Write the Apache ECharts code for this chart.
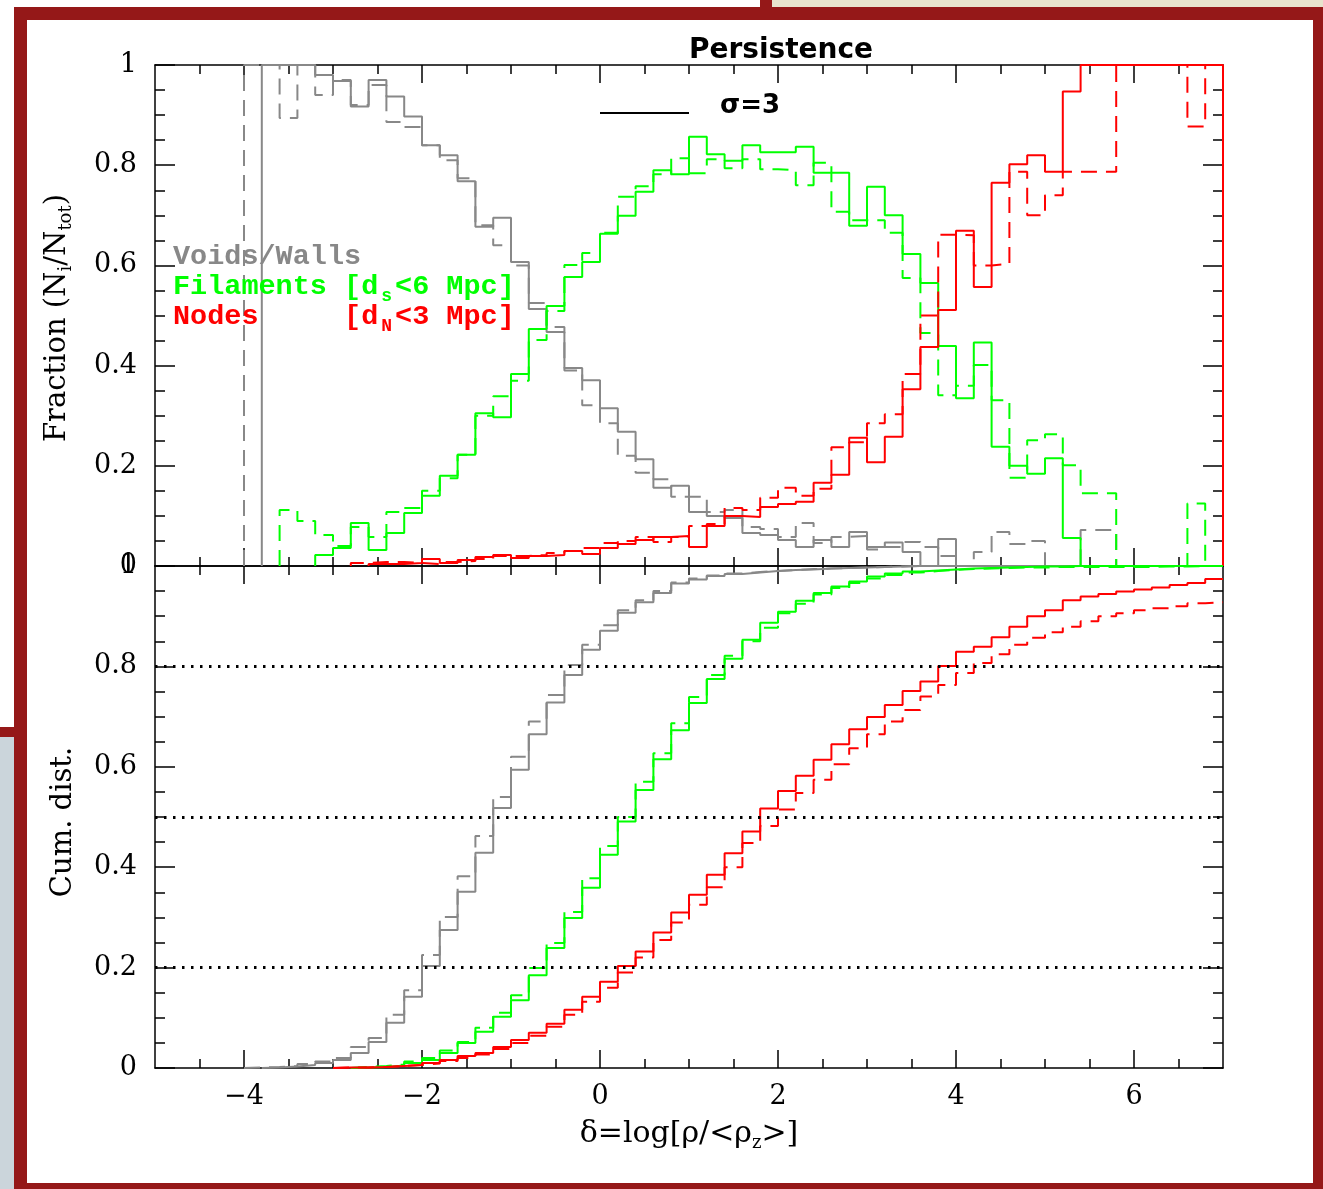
<!DOCTYPE html>
<html><head><meta charset="utf-8">
<script src="https://cdn.jsdelivr.net/npm/echarts@6/dist/echarts.min.js"></script>
<style>html,body{margin:0;padding:0;background:#fff}#c{width:1323px;height:1189px}</style>
</head><body><div id="c"></div>
<script>
// ---------- data ----------
const BIN = 0.2;
const xMajorTicks = [-4, -2, 0, 2, 4, 6];
const cumGuides = [0.2, 0.5, 0.8];

// top panel: fraction per bin (bin width 0.2, first bin starts at *Start)
const fracGreySolidStart = -3.8;
const fracGreySolid = [1,1,1,0.98,0.968,0.917,0.97,0.937,0.897,0.84,0.82,0.768,0.677,0.695,0.607,0.513,0.467,0.395,0.371,0.315,0.268,0.213,0.156,0.16,0.108,0.1,0.096,0.066,0.062,0.052,0.038,0.052,0.038,0.068,0.038,0.047,0.028,0,0.054];
const fracGreyDashedStart = -4.0;
const fracGreyDashed = [1,1,0.894,1,0.94,0.97,0.92,0.96,0.886,0.876,0.84,0.81,0.774,0.68,0.64,0.6,0.525,0.477,0.39,0.321,0.285,0.22,0.186,0.173,0.138,0.138,0.108,0.112,0.078,0.074,0.058,0.086,0.046,0.058,0.06,0.033,0.038,0.048,0.038,0.02,0,0.028,0.068,0.044,0.05,0,0,0.072,0.072];
const fracGreenSolidStart = -3.2;
const fracGreenSolid = [0.022,0.036,0.086,0.032,0.066,0.106,0.14,0.18,0.222,0.305,0.297,0.383,0.473,0.519,0.577,0.607,0.663,0.699,0.747,0.79,0.782,0.857,0.822,0.809,0.84,0.826,0.826,0.837,0.785,0.785,0.679,0.757,0.70,0.623,0.565,0.439,0.335,0.446,0.238,0.2,0.184,0.215,0.056];
const fracGreenDashedStart = -3.6;
const fracGreenDashed = [0.112,0.09,0.062,0.04,0.078,0.058,0.108,0.116,0.15,0.175,0.222,0.3,0.339,0.37,0.451,0.509,0.601,0.625,0.665,0.737,0.758,0.782,0.814,0.784,0.812,0.794,0.812,0.792,0.79,0.76,0.805,0.707,0.69,0.69,0.665,0.575,0.465,0.341,0.36,0.401,0.331,0.176,0.251,0.263,0.201,0.145,0.145,0,0,0,0,0.125];
const fracRedSolidStart = -2.6;
const fracRedSolid = [0.004,0.004,0.006,0.014,0.006,0.012,0.018,0.022,0.016,0.02,0.022,0.03,0.024,0.036,0.044,0.052,0.058,0.06,0.038,0.08,0.1,0.098,0.118,0.124,0.128,0.166,0.182,0.256,0.207,0.258,0.353,0.437,0.511,0.669,0.557,0.765,0.802,0.82,0.787,0.947,1,1,1,1,1,1,1,1];
const fracRedDashedStart = -2.8;
const fracRedDashed = [0.006,0.008,0.008,0.006,0.004,0.008,0.01,0.014,0.02,0.02,0.022,0.026,0.03,0.036,0.046,0.05,0.058,0.048,0.058,0.08,0.084,0.116,0.112,0.136,0.156,0.14,0.154,0.237,0.247,0.285,0.303,0.383,0.5,0.661,0.66,0.6,0.603,0.787,0.70,0.74,0.787,0.787,0.787,1,1,1,1,0.877,1];

// bottom panel: cumulative distribution per bin
const cumGreySolidStart = -3.8;
const cumGreySolid = [0.001,0.003,0.006,0.01,0.016,0.03,0.052,0.09,0.142,0.203,0.275,0.351,0.429,0.518,0.594,0.665,0.728,0.783,0.833,0.871,0.907,0.928,0.946,0.965,0.973,0.98,0.984,0.987,0.99,0.992,0.993,0.995,0.996,0.997,0.998,0.999,1,1,1,1,1,1,1,1,1,1,1,1,1,1,1,1,1,1];
const cumGreyDashedStart = -4.0;
const cumGreyDashed = [0.001,0.002,0.004,0.008,0.013,0.02,0.042,0.06,0.106,0.155,0.225,0.301,0.382,0.462,0.54,0.62,0.69,0.743,0.803,0.843,0.882,0.912,0.932,0.95,0.967,0.975,0.981,0.985,0.988,0.99,0.992,0.994,0.995,0.996,0.997,0.998,0.999,1,1,1,1,1,1,1,1,1,1,1,1,1,1,1,1,1,1];
const cumGreenSolidStart = -2.8;
const cumGreenSolid = [0.001,0.002,0.005,0.01,0.016,0.03,0.05,0.072,0.102,0.135,0.185,0.239,0.299,0.359,0.425,0.491,0.554,0.615,0.673,0.727,0.775,0.815,0.853,0.887,0.909,0.931,0.946,0.959,0.969,0.979,0.985,0.989,0.991,0.993,0.995,0.996,0.997,0.998,0.999,0.999,1,1,1,1,1,1,1,1,1];
const cumGreenDashedStart = -2.8;
const cumGreenDashed = [0.002,0.004,0.007,0.013,0.02,0.035,0.052,0.08,0.11,0.145,0.199,0.249,0.311,0.378,0.442,0.5,0.57,0.627,0.687,0.739,0.783,0.821,0.85,0.877,0.906,0.925,0.943,0.956,0.966,0.975,0.982,0.987,0.99,0.992,0.994,0.995,0.996,0.997,0.997,0.998,0.998,0.998,0.998,0.998,0.998,0.999,0.999,1,1];
const cumRedSolidStart = -3.0;
const cumRedSolid = [0.001,0.001,0.002,0.004,0.006,0.01,0.016,0.024,0.03,0.042,0.056,0.07,0.088,0.116,0.142,0.172,0.203,0.232,0.27,0.31,0.345,0.385,0.428,0.471,0.517,0.552,0.582,0.614,0.645,0.675,0.699,0.723,0.751,0.77,0.801,0.829,0.839,0.858,0.879,0.9,0.912,0.932,0.939,0.944,0.949,0.953,0.957,0.962,0.966,0.974];
const cumRedDashedStart = -3.0;
const cumRedDashed = [0.001,0.001,0.002,0.004,0.006,0.009,0.014,0.02,0.027,0.038,0.05,0.064,0.082,0.106,0.132,0.16,0.19,0.22,0.255,0.29,0.325,0.36,0.4,0.448,0.482,0.515,0.548,0.574,0.605,0.637,0.665,0.69,0.713,0.74,0.763,0.787,0.807,0.824,0.843,0.857,0.868,0.879,0.89,0.9,0.906,0.912,0.916,0.92,0.926,0.928];

// ---------- helpers ----------
const GREY = '#888888', GREEN = '#00ff00', RED = '#ff0000';
const DASH = [16, 9];
function r2(v){ return Math.round(v*1000)/1000; }
function steps(start, vals, closeEnd){
  const pts = [[start, 0]];
  vals.forEach((v, i) => {
    pts.push([r2(start + BIN*i), v], [r2(start + BIN*(i+1)), v]);
  });
  if (closeEnd) pts.push([r2(start + BIN*vals.length), 0]);
  return pts;
}
function ser(data, color, dashed, g, extra){
  return Object.assign({
    type: 'line', data, xAxisIndex: g ? 4 : 0, yAxisIndex: g ? 2 : 0,
    showSymbol: false, symbol: 'none', clip: false, animation: false, silent: true,
    lineStyle: { color, width: 2, type: dashed ? DASH : 'solid' }
  }, extra || {});
}
const minorX = [];
for (let v = -4.5; v <= 6.5; v += 0.5) { if (xMajorTicks.indexOf(v) < 0) minorX.push(v); }

const AX = { color: '#000', width: 1.5 };
const serifLabel = { fontFamily: 'DejaVu Serif', fontSize: 27, color: '#000' };
function xAxes(g){
  const base = { type: 'value', gridIndex: g, min: -5, max: 7, splitLine: { show: false } };
  return [
    Object.assign({}, base, { position: 'bottom',
      axisLine: { show: true, onZero: false, lineStyle: AX },
      axisTick: { show: true, inside: true, length: 18, customValues: xMajorTicks, lineStyle: AX },
      axisLabel: Object.assign({ show: g === 1, customValues: xMajorTicks, margin: 15,
        formatter: v => v < 0 ? '\u2212' + Math.abs(v) : String(v) }, serifLabel) }),
    Object.assign({}, base, { position: 'bottom',
      axisLine: { show: false, onZero: false },
      axisTick: { show: true, inside: true, length: 9, customValues: minorX, lineStyle: AX },
      axisLabel: { show: false } }),
    Object.assign({}, base, { position: 'top',
      axisLine: { show: true, onZero: false, lineStyle: AX },
      axisTick: { show: true, inside: true, length: 18, customValues: xMajorTicks, lineStyle: AX },
      axisLabel: { show: false } }),
    Object.assign({}, base, { position: 'top',
      axisLine: { show: false, onZero: false },
      axisTick: { show: true, inside: true, length: 9, customValues: minorX, lineStyle: AX },
      axisLabel: { show: false } })
  ];
}
function yAxes(g){
  const base = { type: 'value', gridIndex: g, min: 0, max: 1, interval: 0.2,
    splitLine: { show: false }, minorSplitLine: { show: false },
    axisLine: { show: true, onZero: false, lineStyle: AX },
    axisTick: { show: true, inside: true, length: 20, lineStyle: AX },
    minorTick: { show: true, splitNumber: 4, length: 10, lineStyle: AX } };
  return [
    Object.assign({}, base, { position: 'left',
      axisLabel: Object.assign({ show: true, margin: 18 }, serifLabel) }),
    Object.assign({}, base, { position: 'right', axisLabel: { show: false } })
  ];
}

const series = [
  ser(steps(fracGreyDashedStart, fracGreyDashed, true), GREY, true, 0),
  ser(steps(fracGreySolidStart, fracGreySolid, true), GREY, false, 0),
  ser(steps(fracGreenDashedStart, fracGreenDashed, true), GREEN, true, 0),
  ser(steps(fracGreenSolidStart, fracGreenSolid, true), GREEN, false, 0),
  ser(steps(fracRedDashedStart, fracRedDashed, true), RED, true, 0),
  ser(steps(fracRedSolidStart, fracRedSolid, true), RED, false, 0),
  ser(steps(cumGreyDashedStart, cumGreyDashed, false), GREY, true, 1, {
    markLine: { silent: true, symbol: 'none', label: { show: false }, animation: false,
      lineStyle: { color: '#000', width: 3, type: [2.5, 6.5] },
      data: cumGuides.map(v => ({ yAxis: v })) } }),
  ser(steps(cumGreySolidStart, cumGreySolid, false), GREY, false, 1),
  ser(steps(cumGreenDashedStart, cumGreenDashed, false), GREEN, true, 1),
  ser(steps(cumGreenSolidStart, cumGreenSolid, false), GREEN, false, 1),
  ser(steps(cumRedDashedStart, cumRedDashed, false), RED, true, 1),
  ser(steps(cumRedSolidStart, cumRedSolid, false), RED, false, 1)
];

const FRAME = '#951818';
const monoRich = (color) => ({
  sub: { fontSize: 18, fontFamily: 'Liberation Mono', fontWeight: 'bold', fill: color,
    verticalAlign: 'bottom', lineHeight: 18, padding: [0, 3, 0, 3] }
});
function legendText(y, text, color){
  return { type: 'text', x: 173, y, z: 100, silent: true,
    style: { text, fill: color, fontFamily: 'Liberation Mono', fontWeight: 'bold', fontSize: 28.5,
      lineHeight: 36, align: 'left', verticalAlign: 'middle', rich: monoRich(color) } };
}
const serifRich = { sub: { fontSize: 18, fontFamily: 'DejaVu Serif', fill: '#000', verticalAlign: 'bottom', lineHeight: 18 } };

const graphic = [
  { type: 'rect', z: -100, silent: true, shape: { x: 0, y: 737, width: 14, height: 452 }, style: { fill: '#cbd5db' } },
  { type: 'rect', z: -100, silent: true, shape: { x: 0, y: 727, width: 14, height: 10 }, style: { fill: FRAME } },
  { type: 'rect', z: -100, silent: true, shape: { x: 770, y: 0, width: 553, height: 8 }, style: { fill: '#e8e3cd' } },
  { type: 'rect', z: -100, silent: true, shape: { x: 760, y: 0, width: 12, height: 8 }, style: { fill: FRAME } },
  { type: 'rect', z: -99, silent: true, shape: { x: 14, y: 7, width: 1309, height: 1182 }, style: { fill: FRAME } },
  { type: 'rect', z: -98, silent: true, shape: { x: 27, y: 20, width: 1286, height: 1163 }, style: { fill: '#ffffff' } },
  { type: 'text', x: 781, y: 51, z: 100, silent: true,
    style: { text: 'Persistence', fill: '#000', fontFamily: 'DejaVu Sans', fontWeight: 'bold', fontSize: 28, align: 'center', verticalAlign: 'middle' } },
  { type: 'line', z: 100, silent: true, shape: { x1: 600, y1: 113, x2: 689, y2: 113 }, style: { stroke: '#000', lineWidth: 2 } },
  { type: 'text', x: 720, y: 106, z: 100, silent: true,
    style: { text: '\u03c3=3', fill: '#000', fontFamily: 'DejaVu Sans', fontWeight: 'bold', fontSize: 26, align: 'left', verticalAlign: 'middle' } },
  legendText(257, 'Voids/Walls', GREY),
  legendText(287, 'Filaments [d{sub|s}<6 Mpc]', GREEN),
  legendText(317, 'Nodes     [d{sub|N}<3 Mpc]', RED),
  { type: 'text', x: 57, y: 318, rotation: Math.PI/2, z: 100, silent: true,
    style: { text: 'Fraction (N{sub|i}/N{sub|tot})', fill: '#000', fontFamily: 'DejaVu Serif', fontSize: 29,
      lineHeight: 36, align: 'center', verticalAlign: 'middle', rich: serifRich } },
  { type: 'text', x: 63, y: 822, rotation: Math.PI/2, z: 100, silent: true,
    style: { text: 'Cum. dist.', fill: '#000', fontFamily: 'DejaVu Serif', fontSize: 29, align: 'center', verticalAlign: 'middle' } },
  { type: 'text', x: 689, y: 1134, z: 100, silent: true,
    style: { text: '\u03b4=log[\u03c1/<\u03c1{sub|z}>]', fill: '#000', fontFamily: 'DejaVu Serif', fontSize: 30,
      lineHeight: 36, align: 'center', verticalAlign: 'middle', rich: serifRich } }
];

const chart = echarts.init(document.getElementById('c'), null, { renderer: 'canvas' });
chart.setOption({
  backgroundColor: '#ffffff',
  animation: false,
  grid: [
    { left: 155, top: 65, width: 1068, height: 501, containLabel: false },
    { left: 155, top: 566, width: 1068, height: 502, containLabel: false }
  ],
  xAxis: xAxes(0).concat(xAxes(1)),
  yAxis: yAxes(0).concat(yAxes(1)),
  series,
  graphic
});
</script>
</body></html>
